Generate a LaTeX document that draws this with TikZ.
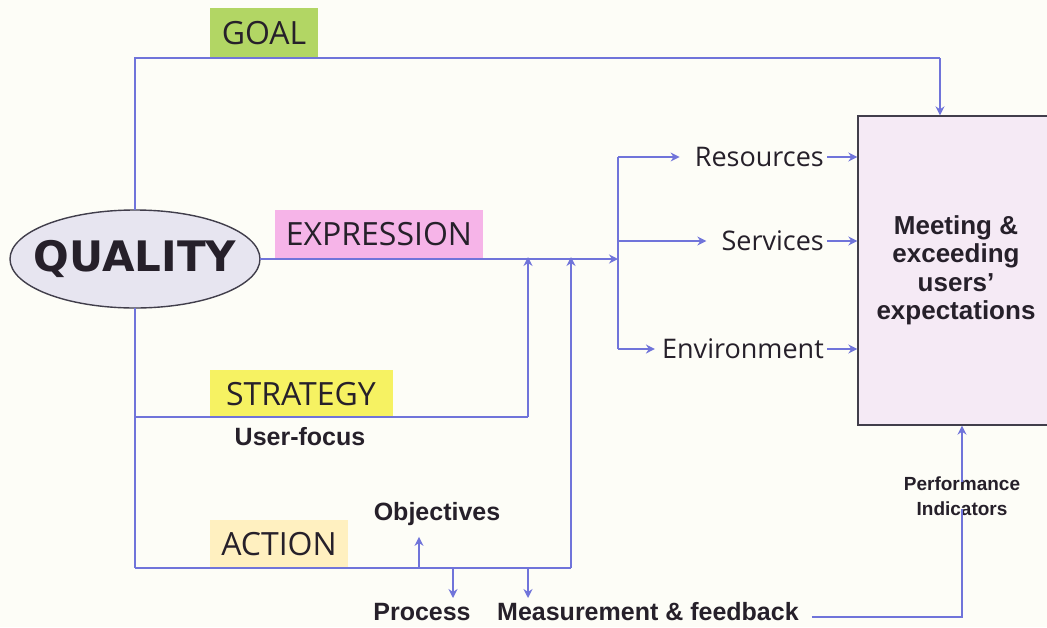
\documentclass[tikz,border=0pt]{standalone}
\usepackage{fontspec}
\setmainfont{Open Sans}
\newfontfamily\arialfont{Liberation Sans}
\newfontfamily\heavyfont{DejaVu Sans}
\usetikzlibrary{shapes.geometric,arrows.meta,calc}

\definecolor{bgcol}{RGB}{253,253,247}
\definecolor{linecol}{RGB}{112,116,218}
\definecolor{goalfill}{RGB}{178,214,100}
\definecolor{exprfill}{RGB}{246,180,232}
\definecolor{stratfill}{RGB}{246,242,98}
\definecolor{actfill}{RGB}{255,240,192}
\definecolor{ellfill}{RGB}{231,229,240}
\definecolor{boxfill}{RGB}{245,234,245}
\definecolor{edgecol}{RGB}{65,62,75}
\definecolor{inkcol}{RGB}{38,32,42}

\tikzset{
  conn/.style={draw=linecol, line width=2.7pt},
  arr/.style={conn, -{Stealth[length=9pt,width=9pt]}},
  tag/.style={rectangle, inner sep=0pt, text=inkcol, font=\fontsize{32}{36}\selectfont},
  word/.style={inner sep=0pt, text=inkcol, font=\fontsize{27}{30}\selectfont},
  boldword/.style={inner sep=0pt, text=inkcol, font=\arialfont\bfseries\fontsize{25}{28}\selectfont},
}

\begin{document}
\begin{tikzpicture}[x=1pt,y=-1pt]
  % canvas
  \fill[bgcol] (0,0) rectangle (1047,627);
  \useasboundingbox (0,0) rectangle (1047,627);

  % coloured heading tags
  \node[tag, fill=goalfill, minimum width=108pt, minimum height=50pt] (goal) at (264,33) {GOAL};
  \node[tag, fill=exprfill, minimum width=208pt, minimum height=48pt] (expr) at (379,234) {EXPRESSION};
  \node[tag, fill=stratfill, minimum width=183pt, minimum height=48pt] (strat) at (301,394) {STRATEGY};
  \node[tag, fill=actfill, minimum width=138pt, minimum height=48pt] (act) at (279,544) {ACTION};

  % central ellipse
  \node[ellipse, draw=edgecol, line width=1.4pt, fill=ellfill, minimum width=250pt, minimum height=98pt,
        inner sep=0pt, outer sep=0pt, text=inkcol, font=\heavyfont\bfseries\fontsize{42}{44}\selectfont]
        (quality) at (135,259) {\makebox[150pt][c]{QUALITY}};

  % target box
  \node[rectangle, draw=edgecol, line width=1.3pt, fill=boxfill, minimum width=196pt, minimum height=309pt,
        inner sep=0pt, align=center, text=inkcol, font=\arialfont\bfseries\fontsize{26}{28.5}\selectfont]
        (target) at (956,270.5) {Meeting \&\\exceeding\\users’\\expectations};

  % outcome words
  \node[word, anchor=east] (res) at (824,157) {Resources};
  \node[word, anchor=east] (serv) at (824,241) {Services};
  \node[word, anchor=east] (env) at (824,349) {Environment};

  % small bold labels
  \node[boldword] (focus) at (300,437) {User-focus};
  \node[boldword] (obj) at (437,514) {Objectives};
  \node[boldword] (proc) at (422,612) {Process};
  \node[boldword, anchor=west] (meas) at (497,612) {Measurement \& feedback};
  \node[inner sep=0pt, align=center, text=inkcol, font=\arialfont\bfseries\fontsize{19}{25}\selectfont]
        (perf) at (962,496) {Performance\\Indicators};

  % junction points
  \coordinate (gcorner) at (135,58);
  \coordinate (gin) at (940,58);
  \coordinate (split) at (618,259);
  \coordinate (splittop) at (618,157);
  \coordinate (splitbot) at (618,349);
  \coordinate (scorner) at (135,417);
  \coordinate (srise) at (528,417);
  \coordinate (acorner) at (135,568);
  \coordinate (arise) at (571,568);
  \coordinate (objfoot) at (419,568);
  \coordinate (procfoot) at (453,568);
  \coordinate (measfoot) at (528,568);
  \coordinate (fbcorner) at (962,617);

  % GOAL path
  \draw[conn] (quality.north) -- (gcorner) -- (gin);
  \draw[arr] (gin) -- (gin |- target.north);

  % EXPRESSION path
  \draw[arr] (quality.east) -- (split);
  \draw[conn] (splittop) -- (splitbot);
  \draw[arr] (splittop) -- ([xshift=-15pt]res.west);
  \draw[arr] (split |- serv.west) -- ([xshift=-15pt]serv.west);
  \draw[arr] (splitbot) -- ([xshift=-7pt]env.west);
  \draw[arr] ([xshift=3pt]res.east) -- (res.east -| target.west);
  \draw[arr] ([xshift=3pt]serv.east) -- (serv.east -| target.west);
  \draw[arr] ([xshift=3pt]env.east) -- (env.east -| target.west);

  % STRATEGY and ACTION paths
  \draw[conn] (quality.south) -- (acorner);
  \draw[conn] (scorner) -- (srise);
  \draw[arr] (srise) -- ([yshift=2pt]srise |- split);
  \draw[conn] (acorner) -- (arise);
  \draw[arr] (arise) -- ([yshift=2pt]arise |- split);
  \draw[arr] (objfoot) -- ([yshift=-11pt]objfoot |- obj.south);
  \draw[arr] (procfoot) -- (procfoot |- 0,598);
  \draw[arr] (measfoot) -- (measfoot |- 0,598);

  % feedback loop
  \draw[conn] ([xshift=13pt]meas.east |- fbcorner) -- (fbcorner) -- ([yshift=7pt]perf.south);
  \draw[arr] ([yshift=-6pt]perf.north) -- (perf.north |- target.south);
\end{tikzpicture}
\end{document}
